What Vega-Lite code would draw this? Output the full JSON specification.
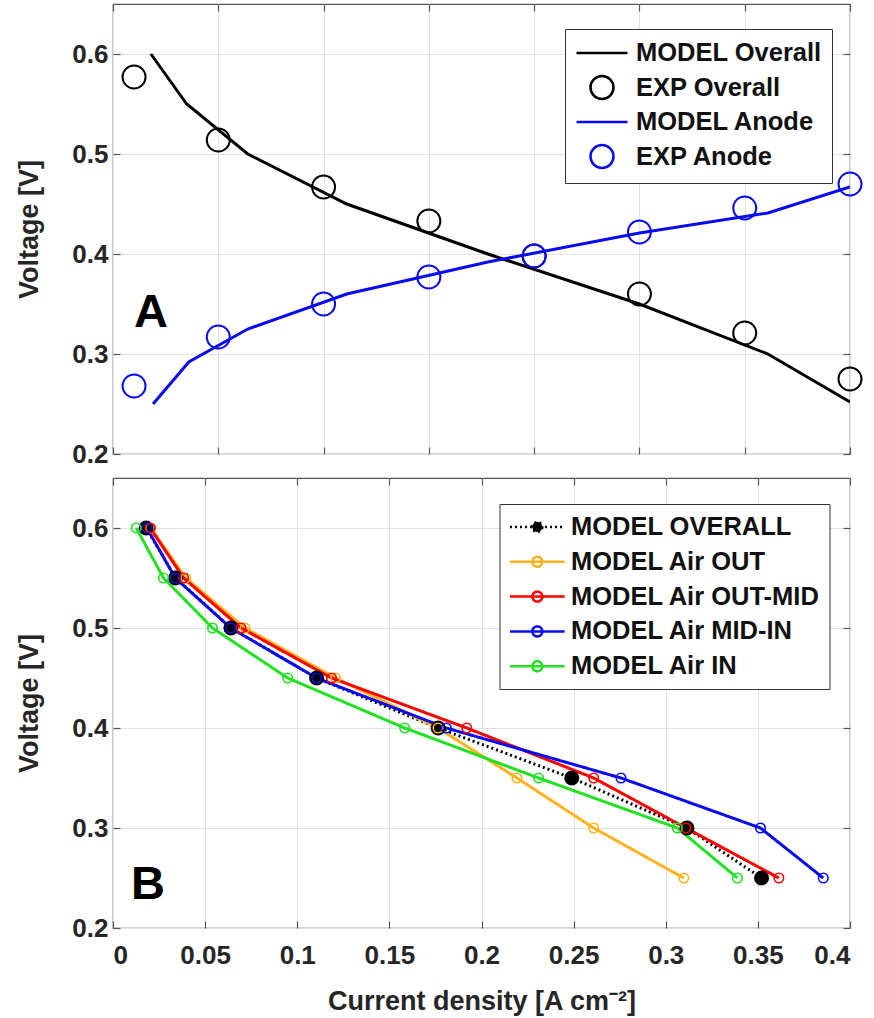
{
  "$schema": "https://vega.github.io/schema/vega-lite/v6.json",
  "padding": {"left": 15, "top": 2, "right": 5, "bottom": 2},
  "spacing": 8,
  "resolve": {
    "scale": {"color": "independent", "shape": "independent", "size": "independent", "fill": "independent", "strokeDash": "independent"},
    "legend": {"color": "independent", "shape": "independent", "size": "independent", "fill": "independent", "strokeDash": "independent"}
  },
  "config": {
    "font": "Liberation Sans",
    "view": {"stroke": "#555555", "strokeWidth": 1.2},
    "axis": {
      "domain": false,
      "grid": true,
      "gridColor": "#e2e2e2",
      "gridWidth": 1,
      "tickColor": "#555555",
      "tickSize": -7,
      "tickWidth": 1.2,
      "labelFont": "Liberation Sans",
      "labelFontSize": 26,
      "labelFontWeight": "bold",
      "labelColor": "#262626",
      "labelPadding": 12,
      "titleFont": "Liberation Sans",
      "titleFontSize": 27,
      "titleFontWeight": "bold",
      "titleColor": "#262626"
    },
    "legend": {
      "labelFont": "Liberation Sans",
      "labelFontSize": 25.5,
      "labelFontWeight": "bold",
      "labelColor": "#111111",
      "labelLimit": 400
    }
  },
  "datasets": {
    "top": [
      {"series": "MODEL Overall", "x": 0.018, "v": 0.6},
      {"series": "MODEL Overall", "x": 0.035, "v": 0.55},
      {"series": "MODEL Overall", "x": 0.064, "v": 0.5},
      {"series": "MODEL Overall", "x": 0.111, "v": 0.45},
      {"series": "MODEL Overall", "x": 0.178, "v": 0.4},
      {"series": "MODEL Overall", "x": 0.25, "v": 0.35},
      {"series": "MODEL Overall", "x": 0.311, "v": 0.3},
      {"series": "MODEL Overall", "x": 0.35, "v": 0.252},
      {"series": "EXP Overall", "x": 0.01, "v": 0.577},
      {"series": "EXP Overall", "x": 0.05, "v": 0.514},
      {"series": "EXP Overall", "x": 0.1, "v": 0.467},
      {"series": "EXP Overall", "x": 0.15, "v": 0.433},
      {"series": "EXP Overall", "x": 0.2, "v": 0.398},
      {"series": "EXP Overall", "x": 0.25, "v": 0.36},
      {"series": "EXP Overall", "x": 0.3, "v": 0.321},
      {"series": "EXP Overall", "x": 0.35, "v": 0.275},
      {"series": "MODEL Anode", "x": 0.019, "v": 0.25},
      {"series": "MODEL Anode", "x": 0.036, "v": 0.292},
      {"series": "MODEL Anode", "x": 0.064, "v": 0.325},
      {"series": "MODEL Anode", "x": 0.111, "v": 0.36},
      {"series": "MODEL Anode", "x": 0.178, "v": 0.392},
      {"series": "MODEL Anode", "x": 0.25, "v": 0.421},
      {"series": "MODEL Anode", "x": 0.311, "v": 0.441},
      {"series": "MODEL Anode", "x": 0.35, "v": 0.467},
      {"series": "EXP Anode", "x": 0.01, "v": 0.268},
      {"series": "EXP Anode", "x": 0.05, "v": 0.317},
      {"series": "EXP Anode", "x": 0.1, "v": 0.35},
      {"series": "EXP Anode", "x": 0.15, "v": 0.377},
      {"series": "EXP Anode", "x": 0.2, "v": 0.398},
      {"series": "EXP Anode", "x": 0.25, "v": 0.422},
      {"series": "EXP Anode", "x": 0.3, "v": 0.446},
      {"series": "EXP Anode", "x": 0.35, "v": 0.47}
    ],
    "bottom": [
      {"series": "MODEL OVERALL", "x": 0.018, "v": 0.6},
      {"series": "MODEL OVERALL", "x": 0.034, "v": 0.55},
      {"series": "MODEL OVERALL", "x": 0.064, "v": 0.5},
      {"series": "MODEL OVERALL", "x": 0.1105, "v": 0.45},
      {"series": "MODEL OVERALL", "x": 0.1765, "v": 0.4},
      {"series": "MODEL OVERALL", "x": 0.249, "v": 0.35},
      {"series": "MODEL OVERALL", "x": 0.3115, "v": 0.3},
      {"series": "MODEL OVERALL", "x": 0.352, "v": 0.25},
      {"series": "MODEL Air OUT", "x": 0.0205, "v": 0.6},
      {"series": "MODEL Air OUT", "x": 0.0395, "v": 0.55},
      {"series": "MODEL Air OUT", "x": 0.0717, "v": 0.5},
      {"series": "MODEL Air OUT", "x": 0.1208, "v": 0.45},
      {"series": "MODEL Air OUT", "x": 0.1764, "v": 0.4},
      {"series": "MODEL Air OUT", "x": 0.2192, "v": 0.35},
      {"series": "MODEL Air OUT", "x": 0.2609, "v": 0.3},
      {"series": "MODEL Air OUT", "x": 0.3098, "v": 0.25},
      {"series": "MODEL Air OUT-MID", "x": 0.0202, "v": 0.6},
      {"series": "MODEL Air OUT-MID", "x": 0.0383, "v": 0.55},
      {"series": "MODEL Air OUT-MID", "x": 0.0695, "v": 0.5},
      {"series": "MODEL Air OUT-MID", "x": 0.1186, "v": 0.45},
      {"series": "MODEL Air OUT-MID", "x": 0.192, "v": 0.4},
      {"series": "MODEL Air OUT-MID", "x": 0.2609, "v": 0.35},
      {"series": "MODEL Air OUT-MID", "x": 0.311, "v": 0.3},
      {"series": "MODEL Air OUT-MID", "x": 0.3614, "v": 0.25},
      {"series": "MODEL Air MID-IN", "x": 0.0184, "v": 0.6},
      {"series": "MODEL Air MID-IN", "x": 0.0338, "v": 0.55},
      {"series": "MODEL Air MID-IN", "x": 0.0639, "v": 0.5},
      {"series": "MODEL Air MID-IN", "x": 0.1105, "v": 0.45},
      {"series": "MODEL Air MID-IN", "x": 0.1809, "v": 0.4},
      {"series": "MODEL Air MID-IN", "x": 0.2757, "v": 0.35},
      {"series": "MODEL Air MID-IN", "x": 0.3514, "v": 0.3},
      {"series": "MODEL Air MID-IN", "x": 0.3855, "v": 0.25},
      {"series": "MODEL Air IN", "x": 0.0126, "v": 0.6},
      {"series": "MODEL Air IN", "x": 0.0274, "v": 0.55},
      {"series": "MODEL Air IN", "x": 0.054, "v": 0.5},
      {"series": "MODEL Air IN", "x": 0.0948, "v": 0.45},
      {"series": "MODEL Air IN", "x": 0.1583, "v": 0.4},
      {"series": "MODEL Air IN", "x": 0.231, "v": 0.35},
      {"series": "MODEL Air IN", "x": 0.3063, "v": 0.3},
      {"series": "MODEL Air IN", "x": 0.3389, "v": 0.25}
    ]
  },
  "vconcat": [
    {
      "width": 737,
      "height": 450,
      "data": {"name": "top"},
      "layer": [
        {
          "transform": [{"filter": "indexof(datum.series, 'MODEL') == 0"}],
          "mark": {"type": "line", "strokeWidth": 3, "clip": true},
          "encoding": {
            "x": {"field": "x", "type": "quantitative", "scale": {"domain": [0, 0.35], "nice": false, "zero": false},
                  "axis": {"orient": "bottom", "values": [0, 0.05, 0.1, 0.15, 0.2, 0.25, 0.3, 0.35], "labels": false, "title": null}},
            "y": {"field": "v", "type": "quantitative", "scale": {"domain": [0.2, 0.65], "nice": false, "zero": false},
                  "axis": {"orient": "left", "values": [0.2, 0.3, 0.4, 0.5, 0.6], "format": ".1f", "title": "Voltage [V]", "titlePadding": 28}},
            "color": {"field": "series", "type": "nominal",
                      "scale": {"domain": ["MODEL Overall", "EXP Overall", "MODEL Anode", "EXP Anode"], "range": ["#000000", "#000000", "#0a0af0", "#0a0af0"]},
                      "legend": {"title": null, "orient": "none", "legendX": 452, "legendY": 25, "padding": 10, "strokeColor": "#333333", "fillColor": "#ffffff", "labelOffset": 33, "rowPadding": 3.5, "symbolStrokeWidth": 2.5, "symbolSize": 625}}
          }
        },
        {
          "transform": [{"filter": "indexof(datum.series, 'EXP') == 0"}],
          "mark": {"type": "point", "shape": "circle", "filled": false, "strokeWidth": 2, "opacity": 1, "size": 529},
          "encoding": {
            "x": {"field": "x", "type": "quantitative", "axis": null},
            "y": {"field": "v", "type": "quantitative", "axis": null},
            "color": {"field": "series", "type": "nominal",
                      "legend": {"title": null, "orient": "none", "legendX": 452, "legendY": 25, "padding": 10, "strokeColor": "#333333", "fillColor": "#ffffff", "labelOffset": 33, "rowPadding": 3.5, "symbolStrokeWidth": 2.5, "symbolSize": 625}}
          }
        },
        {
          "transform": [{"filter": "false"}],
          "mark": {"type": "point", "filled": false, "strokeWidth": 2, "opacity": 1},
          "encoding": {
            "x": {"field": "x", "type": "quantitative", "axis": null},
            "y": {"field": "v", "type": "quantitative", "axis": null},
            "color": {"field": "series", "type": "nominal",
                      "legend": {"title": null, "orient": "none", "legendX": 452, "legendY": 25, "padding": 10, "strokeColor": "#333333", "fillColor": "#ffffff", "labelOffset": 33, "rowPadding": 3.5, "symbolStrokeWidth": 2.5, "symbolSize": 625}},
            "shape": {"field": "series", "type": "nominal",
                      "scale": {"domain": ["MODEL Overall", "EXP Overall", "MODEL Anode", "EXP Anode"],
                                "range": ["M-1,0H3.08", "M1.96,0A0.92,0.92,0,1,1,0.12,0A0.92,0.92,0,1,1,1.96,0", "M-1,0H3.08", "M1.96,0A0.92,0.92,0,1,1,0.12,0A0.92,0.92,0,1,1,1.96,0"]},
                      "legend": {"title": null, "orient": "none", "legendX": 452, "legendY": 25, "padding": 10, "strokeColor": "#333333", "fillColor": "#ffffff", "labelOffset": 33, "rowPadding": 3.5, "symbolStrokeWidth": 2.5, "symbolSize": 625}}
          }
        },
        {
          "data": {"values": [{"panel": "A"}]},
          "mark": {"type": "text", "font": "Liberation Sans", "fontSize": 47, "fontWeight": "bold", "align": "left", "baseline": "alphabetic", "color": "#000000"},
          "encoding": {
            "x": {"datum": 0.01, "type": "quantitative", "axis": {"orient": "top", "values": [0, 0.05, 0.1, 0.15, 0.2, 0.25, 0.3, 0.35], "labels": false, "title": null, "grid": false}},
            "y": {"datum": 0.327, "type": "quantitative", "axis": {"orient": "right", "values": [0.2, 0.3, 0.4, 0.5, 0.6], "labels": false, "title": null, "grid": false}},
            "text": {"field": "panel"}
          }
        }
      ],
      "resolve": {"axis": {"x": "independent", "y": "independent"}}
    },
    {
      "width": 737,
      "height": 450,
      "data": {"name": "bottom"},
      "layer": [
        {
          "mark": {"type": "line", "strokeWidth": 3, "clip": true},
          "encoding": {
            "x": {"field": "x", "type": "quantitative", "scale": {"domain": [0, 0.4], "nice": false, "zero": false},
                  "axis": {"orient": "bottom", "values": [0, 0.05, 0.1, 0.15, 0.2, 0.25, 0.3, 0.35, 0.4], "format": "~g", "title": "Current density [A cm⁻²]", "labelPadding": 21, "titlePadding": 20}},
            "y": {"field": "v", "type": "quantitative", "scale": {"domain": [0.2, 0.65], "nice": false, "zero": false},
                  "axis": {"orient": "left", "values": [0.2, 0.3, 0.4, 0.5, 0.6], "format": ".1f", "title": "Voltage [V]", "titlePadding": 28}},
            "color": {"field": "series", "type": "nominal",
                      "scale": {"domain": ["MODEL OVERALL", "MODEL Air OUT", "MODEL Air OUT-MID", "MODEL Air MID-IN", "MODEL Air IN"], "range": ["#000000", "#ffb21f", "#ff0000", "#0a0af0", "#22e022"]},
                      "legend": {"title": null, "orient": "none", "legendX": 386.5, "legendY": 26, "padding": 9, "strokeColor": "#333333", "fillColor": "#ffffff", "labelOffset": 34.4, "rowPadding": 6.8, "symbolStrokeWidth": 2.5, "symbolSize": 625, "symbolType": "M-1,0H3.376M1.588,0A0.4,0.4,0,1,1,0.788,0A0.4,0.4,0,1,1,1.588,0"}},
            "strokeDash": {"field": "series", "type": "nominal",
                      "scale": {"domain": ["MODEL OVERALL", "MODEL Air OUT", "MODEL Air OUT-MID", "MODEL Air MID-IN", "MODEL Air IN"], "range": [[2, 3], [1, 0], [1, 0], [1, 0], [1, 0]]},
                      "legend": {"title": null, "orient": "none", "legendX": 386.5, "legendY": 26, "padding": 9, "strokeColor": "#333333", "fillColor": "#ffffff", "labelOffset": 34.4, "rowPadding": 6.8, "symbolStrokeWidth": 2.5, "symbolSize": 625, "symbolType": "M-1,0H3.376M1.588,0A0.4,0.4,0,1,1,0.788,0A0.4,0.4,0,1,1,1.588,0"}}
          }
        },
        {
          "transform": [{"filter": "datum.series == 'MODEL OVERALL'"}],
          "mark": {"type": "point", "shape": "circle", "filled": false, "strokeWidth": 1.6, "opacity": 1, "size": 180},
          "encoding": {
            "x": {"field": "x", "type": "quantitative", "axis": null},
            "y": {"field": "v", "type": "quantitative", "axis": null},
            "color": {"field": "series", "type": "nominal",
                      "legend": {"title": null, "orient": "none", "legendX": 386.5, "legendY": 26, "padding": 9, "strokeColor": "#333333", "fillColor": "#ffffff", "labelOffset": 34.4, "rowPadding": 6.8, "symbolStrokeWidth": 2.5, "symbolSize": 625, "symbolType": "M-1,0H3.376M1.588,0A0.4,0.4,0,1,1,0.788,0A0.4,0.4,0,1,1,1.588,0"}},
            "fill": {"field": "series", "type": "nominal",
                     "scale": {"domain": ["MODEL OVERALL", "MODEL Air OUT", "MODEL Air OUT-MID", "MODEL Air MID-IN", "MODEL Air IN"], "range": ["#000000", "transparent", "transparent", "transparent", "transparent"]},
                     "legend": {"title": null, "orient": "none", "legendX": 386.5, "legendY": 26, "padding": 9, "strokeColor": "#333333", "fillColor": "#ffffff", "labelOffset": 34.4, "rowPadding": 6.8, "symbolStrokeWidth": 2.5, "symbolSize": 625, "symbolType": "M-1,0H3.376M1.588,0A0.4,0.4,0,1,1,0.788,0A0.4,0.4,0,1,1,1.588,0"}}
          }
        },
        {
          "transform": [{"filter": "datum.series != 'MODEL OVERALL'"}],
          "mark": {"type": "point", "shape": "circle", "filled": false, "strokeWidth": 1.6, "opacity": 1, "size": 90},
          "encoding": {
            "x": {"field": "x", "type": "quantitative", "axis": null},
            "y": {"field": "v", "type": "quantitative", "axis": null},
            "color": {"field": "series", "type": "nominal",
                      "legend": {"title": null, "orient": "none", "legendX": 386.5, "legendY": 26, "padding": 9, "strokeColor": "#333333", "fillColor": "#ffffff", "labelOffset": 34.4, "rowPadding": 6.8, "symbolStrokeWidth": 2.5, "symbolSize": 625, "symbolType": "M-1,0H3.376M1.588,0A0.4,0.4,0,1,1,0.788,0A0.4,0.4,0,1,1,1.588,0"}},
            "fill": {"field": "series", "type": "nominal",
                     "legend": {"title": null, "orient": "none", "legendX": 386.5, "legendY": 26, "padding": 9, "strokeColor": "#333333", "fillColor": "#ffffff", "labelOffset": 34.4, "rowPadding": 6.8, "symbolStrokeWidth": 2.5, "symbolSize": 625, "symbolType": "M-1,0H3.376M1.588,0A0.4,0.4,0,1,1,0.788,0A0.4,0.4,0,1,1,1.588,0"}}
          }
        },
        {
          "data": {"values": [{"panel": "B"}]},
          "mark": {"type": "text", "font": "Liberation Sans", "fontSize": 47, "fontWeight": "bold", "align": "left", "baseline": "alphabetic", "color": "#000000"},
          "encoding": {
            "x": {"datum": 0.0098, "type": "quantitative", "axis": {"orient": "top", "values": [0, 0.05, 0.1, 0.15, 0.2, 0.25, 0.3, 0.35, 0.4], "labels": false, "title": null, "grid": false}},
            "y": {"datum": 0.229, "type": "quantitative", "axis": {"orient": "right", "values": [0.2, 0.3, 0.4, 0.5, 0.6], "labels": false, "title": null, "grid": false}},
            "text": {"field": "panel"}
          }
        }
      ],
      "resolve": {"axis": {"x": "independent", "y": "independent"}}
    }
  ]
}
